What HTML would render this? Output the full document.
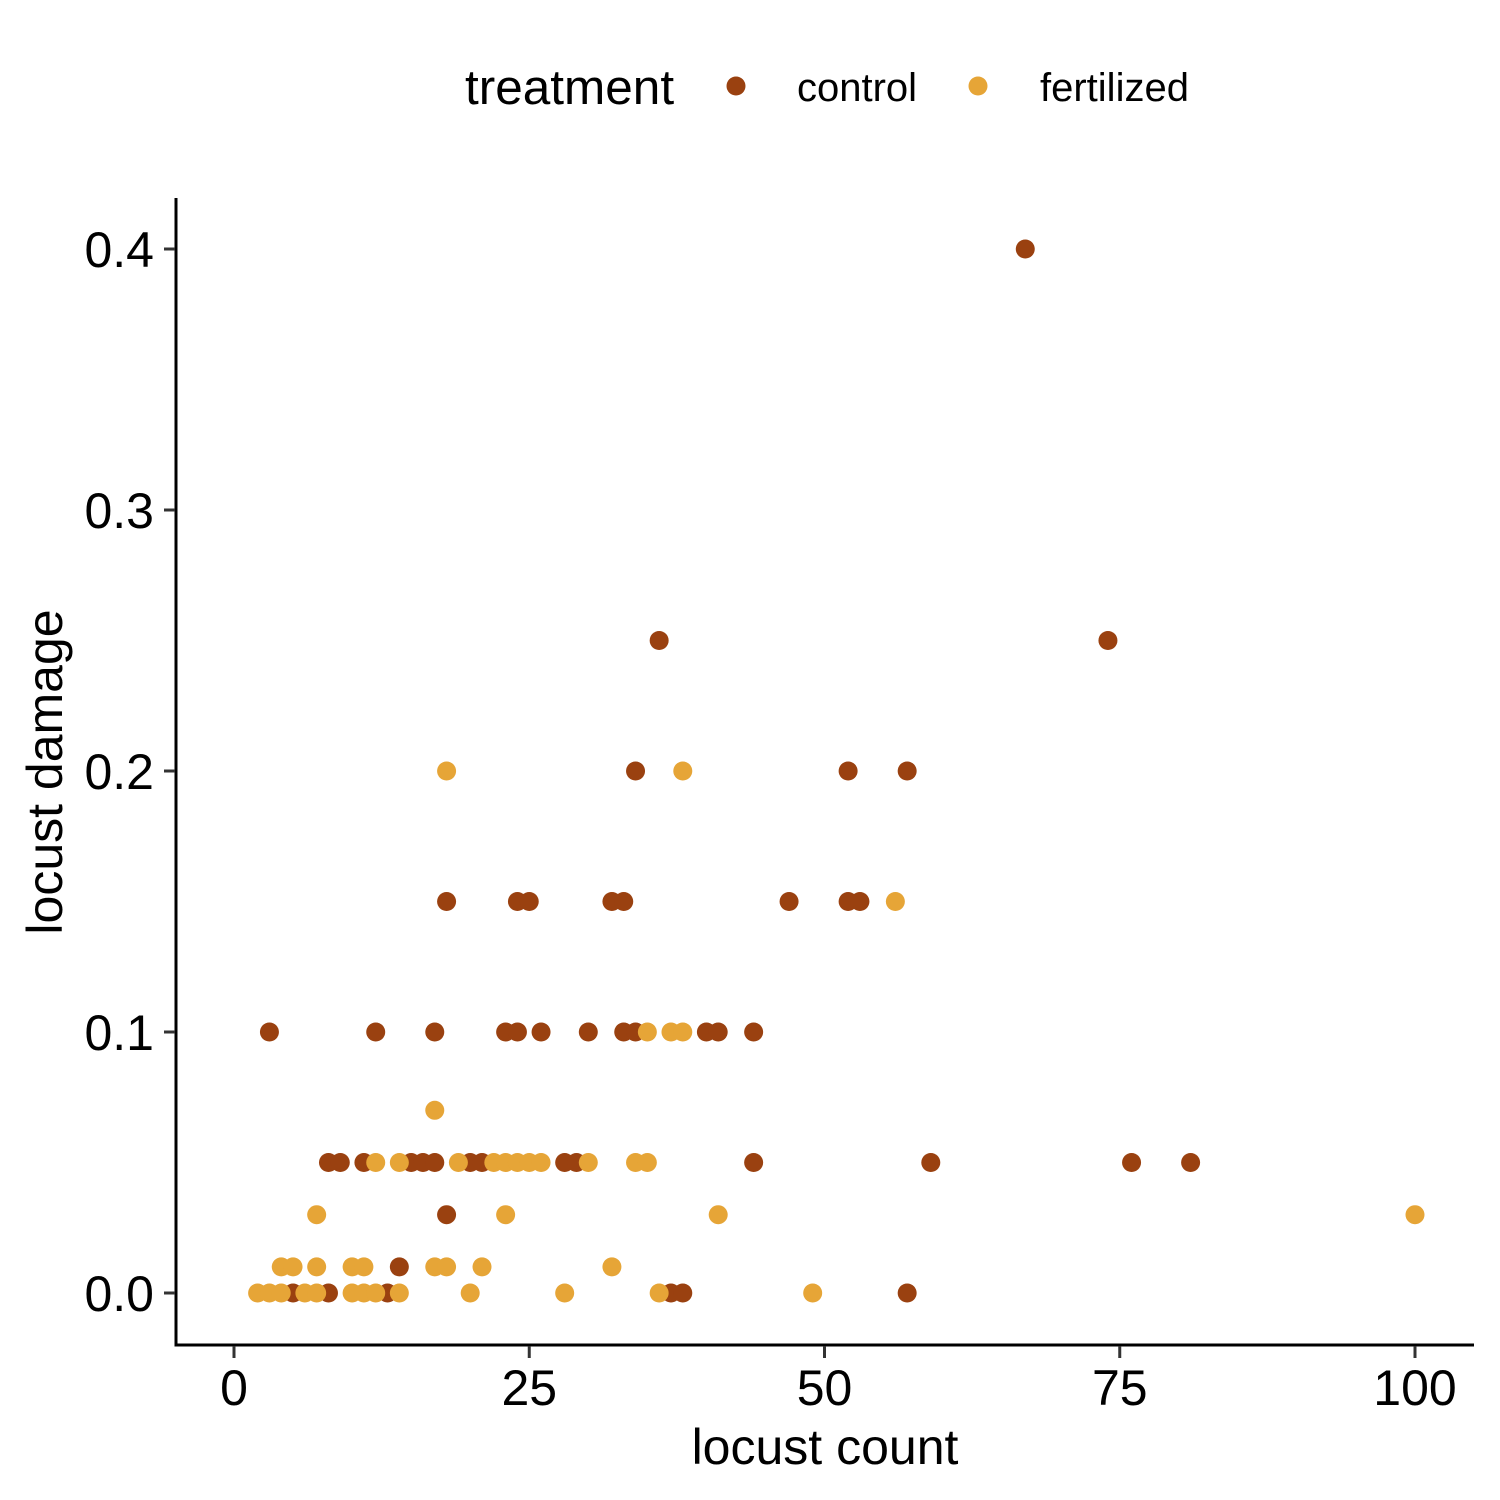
<!DOCTYPE html>
<html><head><meta charset="utf-8"><style>
body{margin:0;background:#fff;}
svg{display:block;font-family:"Liberation Sans",Arial,sans-serif;}
</style></head><body>
<svg id="chart" width="1500" height="1500" viewBox="0 0 1500 1500">
<g>
<text x="465" y="104" font-size="49.5">treatment</text>
<circle cx="736" cy="86" r="9.5" fill="#9A4110"/>
<text x="797" y="101" font-size="40">control</text>
<circle cx="978" cy="86" r="9.5" fill="#E6A537"/>
<text x="1040" y="101" font-size="40">fertilized</text>
</g>
<g id="points"></g>
<g id="axes">
<line x1="176" y1="198" x2="176" y2="1346.5" stroke="#000" stroke-width="3"/>
<line x1="174.5" y1="1345" x2="1474" y2="1345" stroke="#000" stroke-width="3"/>
</g>
<text x="825" y="1464" font-size="50" text-anchor="middle">locust count</text>
<text transform="translate(62,772) rotate(-90)" font-size="50" text-anchor="middle">locust damage</text>
</svg>
<script>
const xTicks=[0,25,50,75,100];
const yTicks=[0,0.1,0.2,0.3,0.4];
const yTickLabels=["0.0","0.1","0.2","0.3","0.4"];
const controlX=[5,8,13,37,38,57,14,18,8,9,11,15,16,17,20,21,28,29,44,59,76,81,3,12,17,23,24,26,30,33,34,40,41,44,18,24,25,32,33,47,52,53,34,52,57,36,74,67];
const controlY=[0,0,0,0,0,0,0.01,0.03,0.05,0.05,0.05,0.05,0.05,0.05,0.05,0.05,0.05,0.05,0.05,0.05,0.05,0.05,0.1,0.1,0.1,0.1,0.1,0.1,0.1,0.1,0.1,0.1,0.1,0.1,0.15,0.15,0.15,0.15,0.15,0.15,0.15,0.15,0.2,0.2,0.2,0.25,0.25,0.4];
const fertX=[2,3,4,6,7,10,11,12,14,20,28,36,49,4,5,7,10,11,17,18,21,32,7,23,41,100,17,12,14,19,22,23,24,25,26,30,34,35,35,37,38,56,18,38];
const fertY=[0,0,0,0,0,0,0,0,0,0,0,0,0,0.01,0.01,0.01,0.01,0.01,0.01,0.01,0.01,0.01,0.03,0.03,0.03,0.03,0.07,0.05,0.05,0.05,0.05,0.05,0.05,0.05,0.05,0.05,0.05,0.05,0.1,0.1,0.1,0.15,0.2,0.2];
const NS="http://www.w3.org/2000/svg";
function xs(v){return 234+v*11.81;}
function ys(v){return 1293-v*2610;}
const pts=document.getElementById('points');
function drawSeries(X,Y,col,name){
  for(let i=0;i<X.length;i++){
    const c=document.createElementNS(NS,'circle');
    c.setAttribute('cx',xs(X[i]));c.setAttribute('cy',ys(Y[i]));
    c.setAttribute('r',9.5);c.setAttribute('fill',col);
    
    
    pts.appendChild(c);
  }
}
drawSeries(controlX,controlY,'#9A4110','point-control');
drawSeries(fertX,fertY,'#E6A537','point-fertilized');
const ax=document.getElementById('axes');
xTicks.forEach(t=>{
  const l=document.createElementNS(NS,'line');
  l.setAttribute('x1',xs(t));l.setAttribute('x2',xs(t));l.setAttribute('y1',1346);l.setAttribute('y2',1358);
  l.setAttribute('stroke','#333');l.setAttribute('stroke-width',3);
  
  
  ax.appendChild(l);
  const tx=document.createElementNS(NS,'text');
  tx.setAttribute('x',xs(t));tx.setAttribute('y',1405);tx.setAttribute('font-size',50);
  tx.setAttribute('text-anchor','middle');tx.textContent=t;
  
  
  ax.appendChild(tx);
});
yTicks.forEach((t,i)=>{
  const l=document.createElementNS(NS,'line');
  l.setAttribute('x1',164);l.setAttribute('x2',175);l.setAttribute('y1',ys(t));l.setAttribute('y2',ys(t));
  l.setAttribute('stroke','#333');l.setAttribute('stroke-width',3);
  
  
  ax.appendChild(l);
  const tx=document.createElementNS(NS,'text');
  tx.setAttribute('x',154);tx.setAttribute('y',ys(t)+18);tx.setAttribute('font-size',50);
  tx.setAttribute('text-anchor','end');tx.textContent=yTickLabels[i];
  
  
  ax.appendChild(tx);
});
</script>
</body></html>
